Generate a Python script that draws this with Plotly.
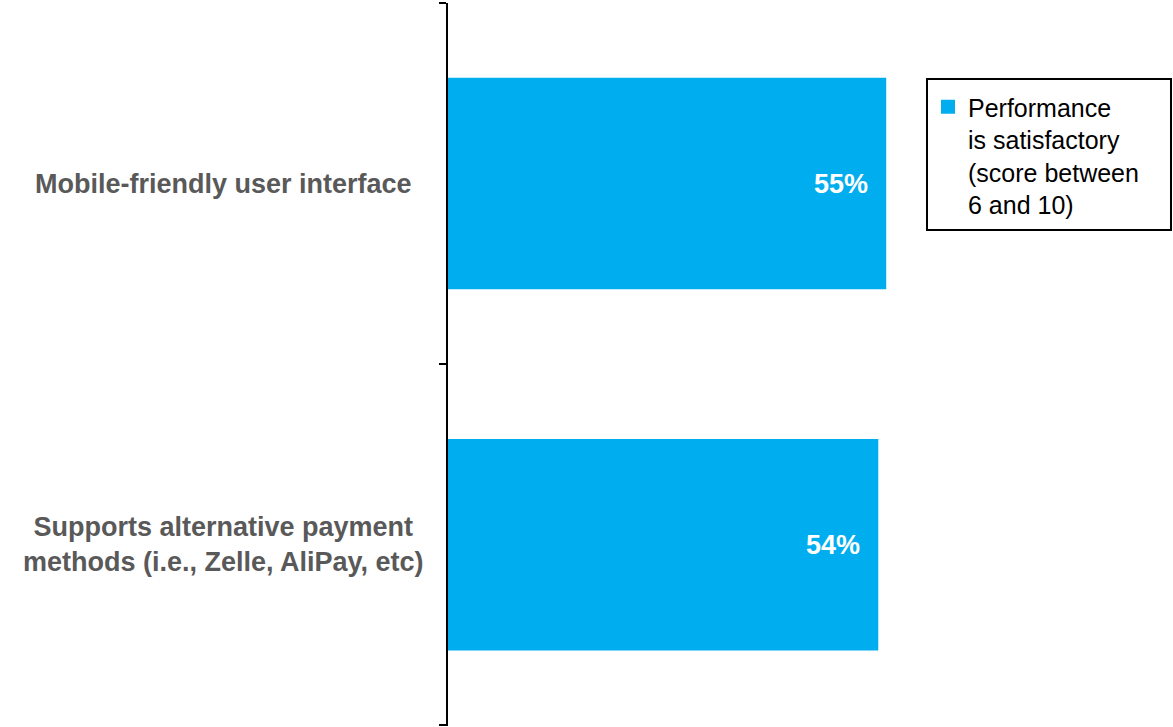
import plotly.graph_objects as go

# Survey result: share of respondents rating performance as satisfactory
categories = [
    "Mobile-friendly user interface",
    "Supports alternative payment<br>methods (i.e., Zelle, AliPay, etc)",
]
values = [55, 54]
series_name = "Performance<br>is satisfactory<br>(score between<br>6 and 10)"

BAR_COLOR = "#00AEEF"
LABEL_GRAY = "#595959"
FONT = "Liberation Sans, Arial, sans-serif"

W, H = 1173, 727
ML, MR, MT, MB = 448, 0, 3, 1
PW, PH = W - ML - MR, H - MT - MB

# each category sits at an integer slot; ticks mark the slot boundaries
slots = list(range(len(categories)))
boundaries = [s - 0.5 for s in slots] + [slots[-1] + 0.5]


def px_to_paper(px, py):
    return (px - ML) / PW, 1 - (py - MT) / PH


fig = go.Figure()
fig.add_trace(
    go.Bar(
        x=values,
        y=slots,
        orientation="h",
        name=series_name,
        marker=dict(color=BAR_COLOR, line=dict(width=2, color=BAR_COLOR)),
        width=0.58,
        showlegend=True,
        hoverinfo="skip",
    )
)

# value labels inside the bar ends
for s, v in zip(slots, values):
    fig.add_annotation(
        x=v, y=s, xref="x", yref="y",
        text=f"<b>{v}%</b>",
        showarrow=False,
        xanchor="right", yanchor="middle",
        xshift=-15,
        font=dict(family=FONT, size=27, color="white"),
    )

# category labels to the left of the axis
for s, c in zip(slots, categories):
    fig.add_annotation(
        x=0, y=s, xref="paper", yref="y",
        text=f"<b>{c}</b>",
        showarrow=False,
        xanchor="center", yanchor="middle",
        align="center",
        xshift=-225,
        font=dict(family=FONT, size=27, color=LABEL_GRAY),
    )

# legend frame
bx0, by0 = px_to_paper(927, 79)
bx1, by1 = px_to_paper(1171, 230)
fig.add_shape(
    type="rect", xref="paper", yref="paper",
    x0=bx0, x1=bx1, y0=by1, y1=by0,
    line=dict(color="black", width=2),
    fillcolor="rgba(0,0,0,0)",
    layer="above",
)

lx, ly = px_to_paper(928, 84)
fig.update_layout(
    width=W,
    height=H,
    margin=dict(l=ML, r=MR, t=MT, b=MB),
    paper_bgcolor="white",
    plot_bgcolor="white",
    font=dict(family=FONT, size=25, color="black"),
    legend=dict(
        x=lx, y=ly,
        xanchor="left", yanchor="top",
        bgcolor="rgba(0,0,0,0)",
        borderwidth=0,
        valign="top",
        font=dict(family=FONT, size=25, color="black"),
    ),
    xaxis=dict(
        range=[0, 91.2],
        visible=False,
        fixedrange=True,
    ),
    yaxis=dict(
        range=[boundaries[-1] + 0.002, boundaries[0]],
        tickmode="array",
        tickvals=boundaries,
        showticklabels=False,
        ticks="outside",
        ticklen=7,
        tickwidth=2,
        tickcolor="black",
        showline=True,
        linecolor="black",
        linewidth=2,
        showgrid=False,
        zeroline=False,
        fixedrange=True,
    ),
)

fig.write_html("out.html")
